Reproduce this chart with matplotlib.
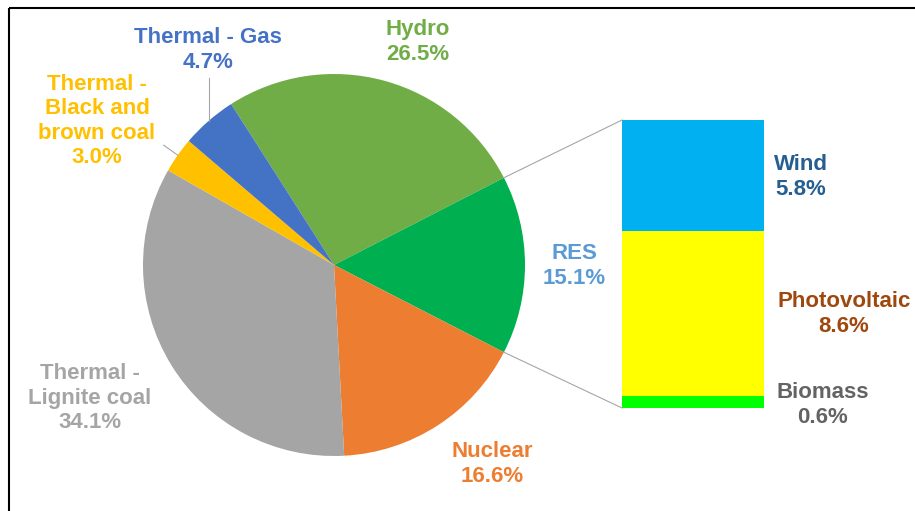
import numpy as np
import matplotlib
matplotlib.use("Agg")
import matplotlib.pyplot as plt
from matplotlib.patches import ConnectionPatch

plt.rcParams['font.family'] = ['Liberation Sans', 'DejaVu Sans']

# Electricity generation mix (%)
pie_labels = ["Hydro", "RES", "Nuclear", "Thermal -\nLignite coal",
              "Thermal -\nBlack and\nbrown coal", "Thermal - Gas"]
pie_values = [26.5, 15.1, 16.6, 34.1, 3.0, 4.7]
pie_colors = ["#70AD47", "#00B050", "#ED7D31", "#A5A5A5", "#FFC000", "#4472C4"]
pie_text_colors = ["#70AD47", "#5B9BD5", "#ED7D31", "#A5A5A5", "#FFC000", "#4472C4"]

# Breakdown of renewable sources (stacked from the bottom)
res_labels = ["Biomass", "Photovoltaic", "Wind"]
res_values = [0.6, 8.6, 5.8]
res_colors = ["#00FF00", "#FFFF00", "#00B0F0"]
res_text_colors = ["#636363", "#9E480E", "#255E91"]

W, H = 915, 511
fig = plt.figure(figsize=(W / 100, H / 100), dpi=100)
ax = fig.add_axes([0, 0, 1, 1])

cx, cy, r = 334, 246, 191
# RES wedge centred on the horizontal axis
start = 360 * (pie_values[0] + pie_values[1] / 2) / sum(pie_values)
wedges, _ = ax.pie(pie_values, colors=pie_colors, startangle=start,
                   counterclock=False, center=(cx, cy), radius=r,
                   wedgeprops=dict(linewidth=0))
ax.set_xlim(0, W)
ax.set_ylim(0, H)
ax.set_aspect('auto')
ax.axis('off')

FS = 16
LS = 1.22

# Pie labels (block centres, pixel coords measured from the top)
pie_label_pos = [(418, 42), (574, 266), (492, 464), (90, 398), (97, 121), (208, 50)]
for lab, val, col, (px, py) in zip(pie_labels, pie_values, pie_text_colors, pie_label_pos):
    ax.text(px, H - py, f"{lab}\n{val:.1f}%", color=col, fontsize=FS,
            fontweight='bold', ha='center', va='center', linespacing=LS)

def edge_point(w, frac=0.5):
    ang = np.deg2rad(w.theta1 + frac * (w.theta2 - w.theta1))
    return cx + r * np.cos(ang), cy + r * np.sin(ang)

# Leader lines for the two small thermal slices
gx, gy = edge_point(wedges[5])
ax.plot([gx, gx], [gy, H - 78], color="#A6A6A6", lw=0.8)
bx, by = edge_point(wedges[4])
ax.plot([bx, bx - 14], [by, by + 10], color="#A6A6A6", lw=0.8)

# Stacked bar for RES breakdown
bar_left, bar_top, bar_w, bar_h = 622, 120, 142, 288
bax = fig.add_axes([bar_left / W, (H - bar_top - bar_h) / H, bar_w / W, bar_h / H])
bottom = 0
for lab, val, col in zip(res_labels, res_values, res_colors):
    bax.bar(0, val, width=1.0, bottom=bottom, color=col, linewidth=0)
    bottom += val
total = bottom
bax.set_xlim(-0.5, 0.5)
bax.set_ylim(0, total)
bax.axis('off')

res_label_pos = [(823, 405), (844, 314), (801, 177)]
for lab, val, col, (px, py) in zip(res_labels, res_values, res_text_colors, res_label_pos):
    ax.text(px, H - py, f"{lab}\n{val:.1f}%", color=col, fontsize=FS,
            fontweight='bold', ha='center', va='center', linespacing=LS)

# Connector lines from the RES wedge edges to the bar corners
lo = edge_point(wedges[1], 0.0)
hi = edge_point(wedges[1], 1.0)
if lo[1] > hi[1]:
    lo, hi = hi, lo
for pt, yb in [(hi, total), (lo, 0)]:
    con = ConnectionPatch(xyA=pt, coordsA=ax.transData, xyB=(-0.5, yb),
                          coordsB=bax.transData, color="#A6A6A6", lw=0.8)
    fig.add_artist(con)

# Frame lines along the top and left
ax.plot([9, W], [H - 8, H - 8], color="black", lw=1.5, solid_capstyle='butt')
ax.plot([9, 9], [0, H - 8], color="black", lw=1.5, solid_capstyle='butt')

fig.savefig("out.png", dpi=100)
